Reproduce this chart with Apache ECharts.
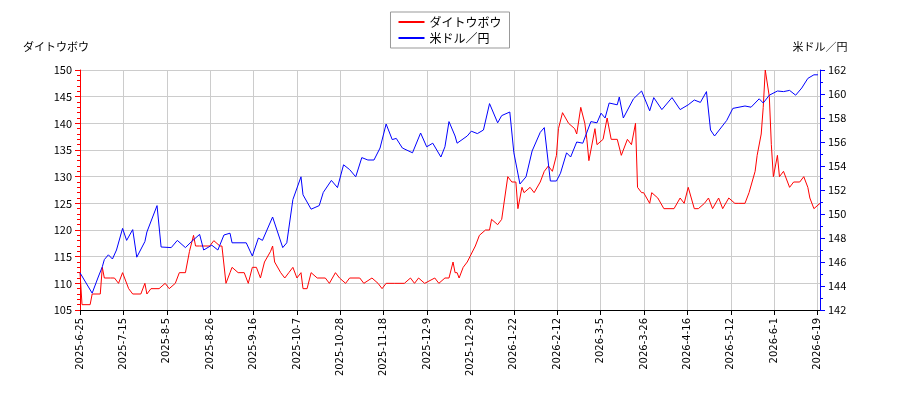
<!DOCTYPE html><html><head><meta charset="utf-8">
<script src="https://cdn.jsdelivr.net/npm/echarts@6/dist/echarts.min.js"></script>
<style>body{margin:0}#c{width:900px;height:400px}</style></head><body><div id="c"></div><script>
const tickLabels=['2025-6-25','2025-7-15','2025-8-5','2025-8-26','2025-9-16','2025-10-7','2025-10-28','2025-11-18','2025-12-9','2025-12-29','2026-1-22','2026-2-12','2026-3-5','2026-3-26','2026-4-16','2026-5-12','2026-6-1','2026-6-19'];
const redDays=[0,1,5,6,10,11,12,15,17,19,21,24,26,30,32,33,35,39,42,44,47,49,52,54,56,57,59,64,66,69,70,72,74,75,78,81,83,85,87,89,91,94,95,96,99,101,103,105,107,109,110,112,114,117,121,123,126,128,131,133,138,140,144,147,149,151,155,160,163,165,167,170,175,177,180,182,184,185,186,187,189,191,195,197,200,202,203,206,208,211,213,215,216,218,219,222,224,227,229,231,233,235,236,238,241,244,245,247,249,250,251,254,255,258,260,262,265,267,270,272,274,275,277,278,281,282,285,288,293,296,298,300,303,305,308,310,312,315,317,320,323,325,328,330,333,334,336,337,338,340,341,342,344,345,347,350,352,355,357,359,360,362,365];
const redVals=[112,106,106,108,108,113,111,111,111,110,112,109,108,108,110,108,109,109,110,109,110,112,112,116,119,117,117,117,118,117,117,110,112,113,112,112,110,113,113,111,114,116,117,114,112,111,112,113,111,112,109,109,112,111,111,110,112,111,110,111,111,110,111,110,109,110,110,110,111,110,111,110,111,110,111,111,114,112,112,111,113,114,117,119,120,120,122,121,122,130,129,129,124,128,127,128,127,129,131,132,131,134,139,142,140,139,138,143,140,137,133,139,136,137,141,137,137,134,137,136,140,128,127,127,125,127,126,124,124,126,125,128,124,124,125,126,124,126,124,126,125,125,125,127,131,134,138,143,150,145,136,130,134,130,131,128,129,129,130,128,126,124,125];
const blueDays=[0,6,9,11,12,14,16,18,21,23,26,28,32,33,38,40,45,48,52,55,59,61,65,68,71,74,75,82,85,88,90,95,100,102,105,109,110,114,118,120,124,127,130,133,136,139,142,145,148,151,154,156,159,164,168,171,174,178,180,182,185,186,191,193,196,199,202,206,208,212,214,217,220,223,227,229,232,235,237,240,242,245,248,252,255,257,259,261,265,266,268,273,277,281,283,287,292,296,300,303,306,309,311,313,319,322,328,331,335,337,340,344,347,350,353,356,359,362,364];
const blueVals=[145.1,143.4,144.75,145.6,146.2,146.6,146.25,147,148.8,147.8,148.7,146.4,147.7,148.5,150.7,147.25,147.2,147.8,147.2,147.7,148.3,147,147.4,147,148.25,148.4,147.6,147.6,146.5,148,147.8,149.75,147.2,147.6,151.2,153.1,151.6,150.4,150.7,151.8,152.8,152.2,154.1,153.7,153.1,154.7,154.5,154.5,155.5,157.5,156.2,156.3,155.5,155.1,156.75,155.6,155.9,154.75,155.6,157.7,156.5,155.9,156.5,156.9,156.7,157,159.2,157.6,158.2,158.5,155.1,152.5,153.1,155.25,156.8,157.2,152.75,152.75,153.4,155.1,154.75,156,155.9,157.7,157.6,158.4,158,159.25,159.1,159.75,158,159.6,160.25,158.6,159.7,158.7,159.7,158.7,159.1,159.5,159.3,160.2,157,156.5,157.8,158.8,159,158.9,159.6,159.25,159.9,160.25,160.2,160.3,159.9,160.5,161.3,161.6,161.6];
const red=redDays.map((d,i)=>[d,redVals[i]]);
const blue=blueDays.map((d,i)=>[d,blueVals[i]]);
const STEP=21.4;
const font='"Noto Sans CJK JP","Noto Sans",sans-serif';
const ch=echarts.init(document.getElementById('c'));
ch.setOption({
 animation:false,
 textStyle:{fontFamily:font},
 legend:{top:12,left:'center',orient:'vertical',itemGap:4,borderColor:'#999',borderWidth:1,padding:[4,8],itemWidth:26,itemHeight:2,icon:'rect',textStyle:{fontSize:12,color:'#000',fontFamily:font},data:['ダイトウボウ','米ドル／円']},
 grid:{left:80,right:80,top:70,bottom:90},
 xAxis:{type:'value',min:0,max:365,interval:STEP,
  axisLine:{lineStyle:{color:'#000'}},axisTick:{lineStyle:{color:'#000'}},
  splitLine:{show:true,lineStyle:{color:'#ccc'}},
  axisLabel:{rotate:90,fontSize:10,color:'#000',fontFamily:'"DejaVu Sans"',formatter:v=>tickLabels[Math.round(v/STEP)]||''}},
 yAxis:[
  {type:'value',min:105,max:150,interval:5,name:'ダイトウボウ',nameLocation:'end',nameGap:18,nameTextStyle:{color:'#000',fontSize:11,align:'center',padding:[0,48,0,0]},
   axisLine:{show:true,lineStyle:{color:'red'}},axisTick:{show:true,lineStyle:{color:'red'}},minorTick:{show:true,splitNumber:5,lineStyle:{color:'red'}},
   axisLabel:{color:'#000',fontSize:11},splitLine:{lineStyle:{color:'#ccc'}}},
  {type:'value',min:142,max:162,interval:2,name:'米ドル／円',nameLocation:'end',nameGap:18,nameTextStyle:{color:'#000',fontSize:11,align:'center'},
   axisLine:{show:true,lineStyle:{color:'blue'}},axisTick:{show:true,lineStyle:{color:'blue'}},minorTick:{show:true,splitNumber:2,lineStyle:{color:'blue'}},
   axisLabel:{color:'#000',fontSize:11},splitLine:{show:false}}],
 series:[
  {name:'ダイトウボウ',type:'line',yAxisIndex:0,data:red,showSymbol:false,lineStyle:{color:'red',width:1},itemStyle:{color:'red'}},
  {name:'米ドル／円',type:'line',yAxisIndex:1,data:blue,showSymbol:false,lineStyle:{color:'blue',width:1},itemStyle:{color:'blue'}}]
});
</script></body></html>
